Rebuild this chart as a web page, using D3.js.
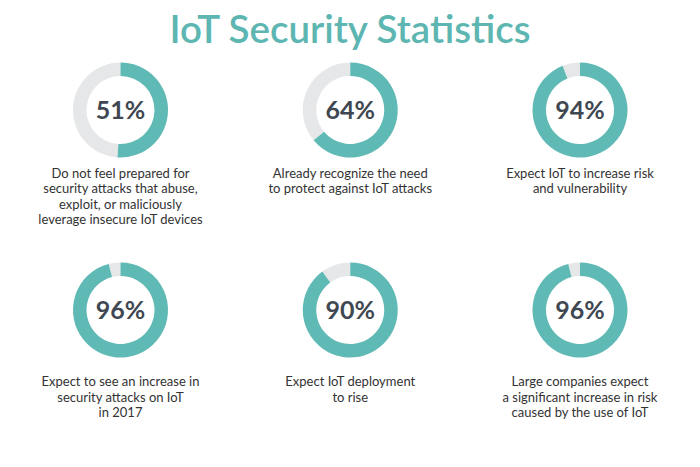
<!DOCTYPE html>
<html><head><meta charset="utf-8">
<script src="https://cdn.jsdelivr.net/npm/d3@7"></script>
<style>body{margin:0;background:#fff}svg{display:block}</style>
</head><body><svg id="c" width="700" height="467"></svg>
<script>
const title = "IoT Security Statistics";
const values = [51, 64, 94, 96, 90, 96];
const labels = [
  ["Do not feel prepared for", "security attacks that abuse,", "exploit, or maliciously", "leverage insecure IoT devices"],
  ["Already recognize the need", "to protect against IoT attacks"],
  ["Expect IoT to increase risk", "and vulnerability"],
  ["Expect to see an increase in", "security attacks on IoT", "in 2017"],
  ["Expect IoT deployment", "to rise"],
  ["Large companies expect", "a significant increase in risk", "caused by the use of IoT"]
];
const teal = "#5fb9b5", grey = "#e6e7e8", dark = "#3f4852";
const svg = d3.select("#c");
svg.append("text").attr("x", 350).attr("y", 42.5).attr("text-anchor", "middle")
  .attr("font-family", "Lato").attr("font-weight", 600).attr("font-size", 38.5)
  .attr("fill", "#5db6b1").text(title);

const col = d3.scalePoint().domain([0,1,2]).range([120.5, 580]);
const row = d3.scalePoint().domain([0,1]).range([110, 310]);
const labelOffset = [67.5, 76];
const angle = d3.scaleLinear().domain([0, 100]).range([0, 2*Math.PI]);
const arc = d3.arc().innerRadius(34).outerRadius(47.5);

values.forEach((v, i) => {
  const r = Math.floor(i/3);
  const g = svg.append("g").attr("transform", `translate(${col(i%3)},${row(r)})`);
  g.append("path").attr("d", arc({startAngle: angle(v), endAngle: angle(100)})).attr("fill", grey);
  g.append("path").attr("d", arc({startAngle: 0, endAngle: angle(v)})).attr("fill", teal);
  g.append("text").attr("text-anchor", "middle").attr("dy", "0.35em")
    .attr("font-family", "Lato").attr("font-weight", 700).attr("font-size", 25)
    .attr("fill", dark).text(v + "%");
  const t = g.append("text").attr("text-anchor", "middle")
    .attr("font-family", "Lato").attr("font-size", 13).attr("fill", "#333");
  labels[i].forEach((l, j) => t.append("tspan").attr("x", 0).attr("y", labelOffset[r] + j*15.6).text(l));
});
</script></body></html>
